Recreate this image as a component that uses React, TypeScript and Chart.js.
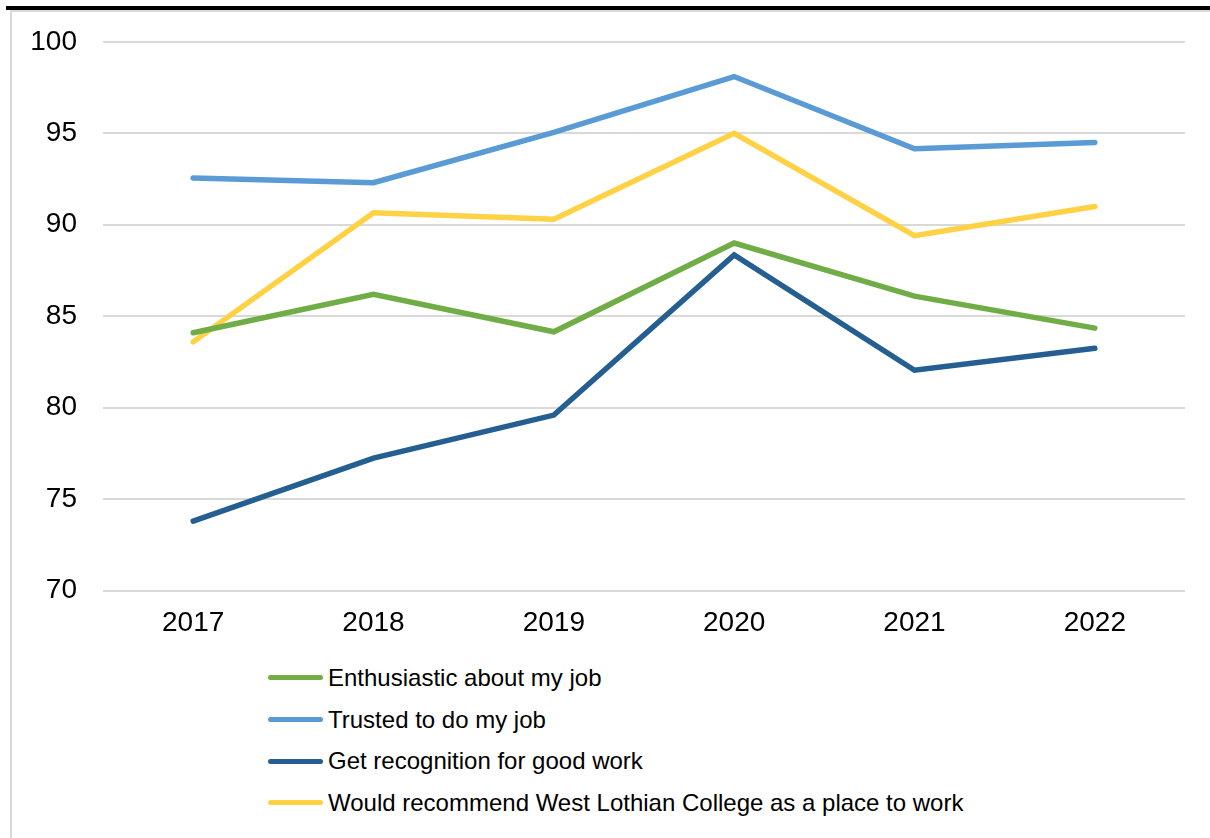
import React, { useEffect, useRef } from "react";
import { Chart, registerables } from "chart.js";

Chart.register(...registerables);

const years = ["2017", "2018", "2019", "2020", "2021", "2022"];
const enthusiastic = [84.1, 86.2, 84.15, 89.0, 86.1, 84.35];
const trusted = [92.55, 92.3, 95.05, 98.1, 94.15, 94.5];
const recognition = [73.8, 77.25, 79.6, 88.35, 82.05, 83.25];
const recommend = [83.6, 90.65, 90.3, 95.0, 89.4, 91.0];
const seriesNames = [
  "Enthusiastic about my job",
  "Trusted to do my job",
  "Get recognition for good work",
  "Would recommend West Lothian College as a place to work",
];
const seriesColors = ["#70AD47", "#5B9BD5", "#255E91", "#FFD145"];
const yMin = 70;
const yMax = 100;
const yStep = 5;

const FONT = "'Liberation Sans', Arial, sans-serif";

export default function App() {
  const canvasRef = useRef<HTMLCanvasElement | null>(null);

  useEffect(() => {
    document.body.style.margin = "0";
    const ctx = canvasRef.current;
    if (!ctx) return;
    const values = [enthusiastic, trusted, recognition, recommend];
    const chart = new Chart(ctx, {
      type: "line",
      data: {
        labels: years,
        datasets: values.map((d, i) => ({
          label: seriesNames[i],
          data: d,
          borderColor: seriesColors[i],
          backgroundColor: seriesColors[i],
          borderWidth: 5.5,
          pointRadius: 0,
          pointHoverRadius: 0,
          tension: 0,
          borderCapStyle: "round" as const,
          borderJoinStyle: "miter" as const,
          fill: false,
        })),
      },
      options: {
        animation: false,
        responsive: false,
        maintainAspectRatio: false,
        layout: { padding: { top: 0, right: 25, left: 0, bottom: 0 } },
        plugins: {
          legend: { display: false },
          tooltip: { enabled: false },
        },
        scales: {
          x: {
            offset: true,
            grid: { display: false, drawTicks: false },
            border: { display: false },
            ticks: {
              color: "#000",
              font: { family: FONT, size: 28 },
              padding: 16,
              maxRotation: 0,
            },
            afterFit: (scale: any) => {
              scale.height = 49.3;
            },
          },
          y: {
            min: yMin,
            max: yMax,
            grid: { color: "#D9D9D9", lineWidth: 2, drawTicks: false },
            border: { display: false },
            ticks: {
              stepSize: yStep,
              color: "#000",
              font: { family: FONT, size: 28 },
              padding: 26,
            },
            afterFit: (scale: any) => {
              scale.width = 91;
            },
          },
        },
      },
    });
    return () => chart.destroy();
  }, []);

  return (
    <div style={{ position: "relative", width: 1210, height: 838, background: "#fff", overflow: "hidden" }}>
      <div style={{ position: "absolute", left: 6, top: 6, width: 1204, height: 4, background: "#000" }} />
      <div style={{ position: "absolute", left: 10, top: 10, width: 1200, height: 2, background: "#D9D9D9" }} />
      <div style={{ position: "absolute", left: 10, top: 10, width: 2, height: 828, background: "#D9D9D9" }} />
      <canvas
        ref={canvasRef}
        width={1198}
        height={641}
        style={{ position: "absolute", left: 12, top: -1, width: 1198, height: 641 }}
      />
      <div style={{ position: "absolute", left: 268, top: 657, fontFamily: FONT, fontSize: 24, color: "#000" }}>
        {seriesNames.map((n, i) => (
          <div key={n} style={{ display: "flex", alignItems: "center", height: 41.7, whiteSpace: "nowrap" }}>
            <span
              style={{
                display: "inline-block",
                width: 55,
                height: 5,
                borderRadius: 3,
                background: seriesColors[i],
                marginRight: 5,
              }}
            />
            <span>{n}</span>
          </div>
        ))}
      </div>
    </div>
  );
}
